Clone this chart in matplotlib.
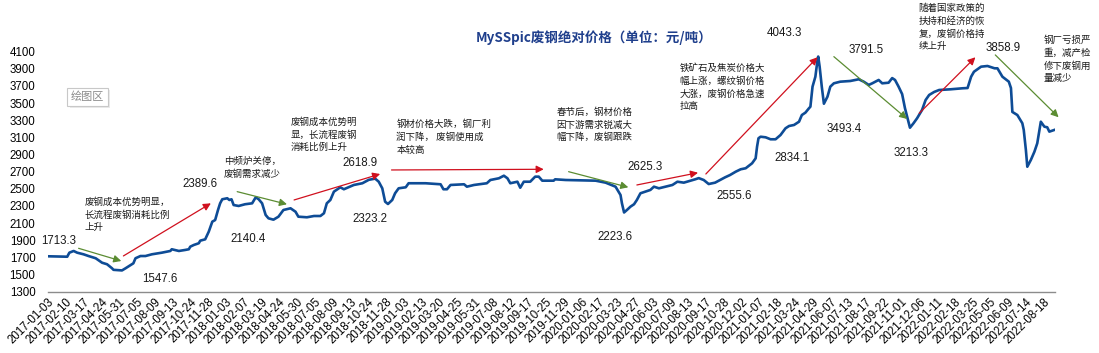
import matplotlib
matplotlib.use('Agg')
import matplotlib.pyplot as plt
import matplotlib.patheffects as pe

#### Fonts: latin first, CJK fallback
plt.rcParams['font.family'] = ['Liberation Sans', 'Noto Sans CJK SC', 'DejaVu Sans']
cjk = ['Noto Sans CJK SC', 'DejaVu Sans']

#### Data: trading-day index and price (yuan/ton)
pos = [0, 27, 30, 36, 41, 50, 57, 67, 76, 83, 90, 92, 104, 109, 116, 120, 123, 130, 137, 146,
       160, 172, 174, 184, 193, 198, 200, 205, 212, 214, 221, 226, 231, 235, 239, 242, 245, 252,
       255, 258, 261, 268, 277, 287, 292, 296, 301, 306, 310, 317, 324, 331, 341, 348, 352, 364,
       374, 383, 388, 392, 397, 402, 411, 416, 430, 442, 451, 460, 465, 470, 474, 478, 484, 488,
       493, 503, 507, 531, 552, 556, 561, 566, 585, 589, 599, 617, 622, 634, 641, 646, 650, 660,
       664, 669, 678, 685, 690, 695, 711, 713, 728, 770, 784, 798, 805, 807, 810, 814, 819, 824,
       828, 833, 840, 847, 852, 859, 868, 878, 885, 894, 910, 915, 922, 929, 938, 945, 952, 959,
       967, 974, 981, 985, 990, 995, 997, 999, 1002, 1009, 1016, 1023, 1030, 1037, 1042, 1049,
       1056, 1060, 1065, 1070, 1072, 1075, 1079, 1082, 1083, 1085, 1088, 1091, 1096, 1100, 1105,
       1114, 1128, 1140, 1147, 1154, 1159, 1168, 1173, 1182, 1187, 1191, 1196, 1201, 1205, 1208,
       1212, 1217, 1222, 1229, 1234, 1239, 1246, 1253, 1269, 1286, 1293, 1298, 1302, 1312, 1321,
       1331, 1335, 1342, 1351, 1354, 1356, 1363, 1370, 1372, 1375, 1377, 1382, 1387, 1391, 1396,
       1401, 1405, 1408, 1415]
price = [1713, 1708, 1755, 1775, 1755, 1736, 1716, 1690, 1638, 1620, 1573, 1555, 1548, 1573, 1610,
         1631, 1690, 1716, 1716, 1736, 1755, 1775, 1795, 1775, 1787, 1795, 1825, 1845, 1865, 1895,
         1911, 2000, 2117, 2136, 2253, 2331, 2378, 2390, 2370, 2378, 2311, 2300, 2320, 2331, 2400,
         2380, 2331, 2195, 2156, 2140, 2175, 2253, 2273, 2233, 2175, 2168, 2183, 2183, 2215, 2331,
         2370, 2467, 2518, 2495, 2545, 2565, 2605, 2619, 2583, 2506, 2350, 2323, 2370, 2448, 2506,
         2518, 2565, 2565, 2553, 2495, 2495, 2545, 2553, 2525, 2545, 2565, 2603, 2623, 2653, 2623,
         2565, 2583, 2513, 2583, 2583, 2642, 2642, 2595, 2595, 2611, 2603, 2595, 2572, 2525, 2428,
         2331, 2224, 2253, 2292, 2320, 2370, 2448, 2467, 2487, 2525, 2506, 2525, 2545, 2583, 2572,
         2611, 2625, 2603, 2556, 2572, 2603, 2634, 2661, 2700, 2728, 2740, 2766, 2798, 2856, 2992,
         3090, 3108, 3101, 3078, 3078, 3128, 3206, 3233, 3245, 3283, 3361, 3389, 3440, 3458, 3692,
         3808, 4003, 4043, 3925, 3692, 3493, 3575, 3692, 3731, 3750, 3758, 3778, 3750, 3712, 3731,
         3770, 3731, 3738, 3792, 3770, 3692, 3605, 3440, 3342, 3213, 3265, 3323, 3420, 3536, 3595,
         3630, 3653, 3661, 3673, 3676, 3808, 3866, 3925, 3933, 3906, 3906, 3808, 3750, 3676, 3397,
         3361, 3265, 3187, 2953, 2758, 2837, 2933, 3031, 3283, 3225, 3218, 3167, 3187]

#### Category-axis tick labels (every 25 trading days)
tickLabels = ['2017-01-03', '2017-02-10', '2017-03-17', '2017-04-24', '2017-05-31', '2017-07-05',
              '2017-08-09', '2017-09-13', '2017-10-24', '2017-11-28', '2018-01-03', '2018-02-07',
              '2018-03-19', '2018-04-24', '2018-05-30', '2018-07-05', '2018-08-09', '2018-09-13',
              '2018-10-24', '2018-11-28', '2019-01-03', '2019-02-13', '2019-03-20', '2019-04-25',
              '2019-05-31', '2019-07-08', '2019-08-12', '2019-09-17', '2019-10-25', '2019-11-29',
              '2020-01-06', '2020-02-17', '2020-03-23', '2020-04-27', '2020-06-03', '2020-07-09',
              '2020-08-13', '2020-09-17', '2020-10-28', '2020-12-02', '2021-01-07', '2021-02-18',
              '2021-03-24', '2021-04-29', '2021-06-07', '2021-07-13', '2021-08-17', '2021-09-22',
              '2021-11-01', '2021-12-06', '2022-01-11', '2022-02-18', '2022-03-25', '2022-05-05',
              '2022-06-09', '2022-07-14', '2022-08-18']
tickPos = [25 * i for i in range(len(tickLabels))]

#### Value labels: text, x (index), y (price)
valLabels = ['1713.3', '1547.6', '2389.6', '2140.4', '2323.2', '2618.9', '2223.6', '2625.3',
             '2555.6', '2834.1', '4043.3', '3791.5', '3493.4', '3213.3', '3858.9']
valX = [-10, 157, 214, 281, 452, 438, 797, 839, 965, 1046, 1036, 1151, 1120, 1214, 1343]
valY = [1895, 1445, 2557, 1915, 2145, 2798, 1942, 2758, 2417, 2856, 4315, 4120, 3195, 2922, 4147]

#### Comment texts (top-left anchored)
notes = ['废钢成本优势明显，\n长流程废钢消耗比例\n上升',
         '中频炉关停，\n废钢需求减少',
         '废钢成本优势明\n显，长流程废钢\n消耗比例上升',
         '钢材价格大跌，钢厂利\n润下降， 废钢使用成\n本较高',
         '春节后，钢材价格\n因下游需求锐减大\n幅下降，废钢跟跌',
         '铁矿石及焦炭价格大\n幅上涨，螺纹钢价格\n大涨，废钢价格急速\n拉高',
         '随着国家政策的\n扶持和经济的恢\n复，废钢价格持\n续上升',
         '钢厂亏损严\n重，减产检\n修下废钢用\n量减少']
noteX = [51, 247, 341, 490, 715, 888, 1224, 1400]
noteY = [2405, 2877, 3338, 3309, 3449, 3968, 4662, 4289]

#### Trend arrows: start/end (index, price), colour
arrX0 = [43, 266, 732, 1105, 1332, 106, 346, 483, 828, 925, 1225]
arrY0 = [1806, 2467, 2700, 4042, 4062, 1717, 2370, 2720, 2545, 2673, 3381]
arrX1 = [103, 336, 816, 1208, 1421, 229, 467, 697, 914, 1082, 1304]
arrY1 = [1658, 2320, 2518, 3315, 3335, 2331, 2673, 2728, 2688, 4035, 4035]
arrCol = ['#5b8c32'] * 5 + ['#d0101e'] * 6

#### Plotting
fig = plt.figure(figsize=(10.99, 3.53), dpi=100)
ax = fig.add_axes([0.0437, 0.1737, 0.9163, 0.6799])
ax.plot(pos, price, color='#0e4c96', lw=1.9, solid_joinstyle='round')

ax.set_xlim(0, 1416)
ax.set_ylim(1300, 4100)
ax.set_yticks(range(1300, 4101, 200))
ax.set_xticks(tickPos)
ax.set_xticklabels(tickLabels, rotation=45, ha='right', rotation_mode='anchor', fontsize=8.3)
ax.tick_params(axis='y', length=0, pad=9, labelsize=8.3)
ax.tick_params(axis='x', length=0, pad=3)
for s in ['top', 'right', 'left']:
    ax.spines[s].set_visible(False)
ax.spines['bottom'].set_color('#8c8c8c')
ax.spines['bottom'].set_linewidth(1.0)

for t, x, y in zip(valLabels, valX, valY):
    ax.text(x, y, t, fontsize=8.3, ha='center' if x > 0 else 'left', va='center', color='#1a1a1a')

for t, x, y in zip(notes, noteX, noteY):
    ax.text(x, y, t, fontsize=6.8, ha='left', va='top', linespacing=1.45,
            family=cjk, color='#1a1a1a', clip_on=False)

for x0, y0, x1, y1, c in zip(arrX0, arrY0, arrX1, arrY1, arrCol):
    ax.annotate('', xy=(x1, y1), xytext=(x0, y0), annotation_clip=False,
                arrowprops=dict(arrowstyle='-|>', color=c, lw=0.9, mutation_scale=11,
                                shrinkA=0, shrinkB=0))

## title
fig.text(594 / 1099, 1 - 38 / 353, 'MySSpic废钢绝对价格（单位：元/吨）', ha='center', va='center',
         fontsize=9.7, fontweight='bold', color='#1f3f8c', family=cjk)

## Excel "plot area" tag
tag = fig.text(87.5 / 1099, 1 - 97 / 353, '绘图区', ha='center', va='center', fontsize=8,
               color='#8a8a8a', family=cjk,
               bbox=dict(boxstyle='square,pad=0.3', fc='white', ec='#c8c8c8', lw=0.8))
tag.get_bbox_patch().set_path_effects([pe.SimplePatchShadow(offset=(1.5, -1.5), shadow_rgbFace='#bbbbbb'),
                                       pe.Normal()])

fig.savefig('out.png', dpi=100)
